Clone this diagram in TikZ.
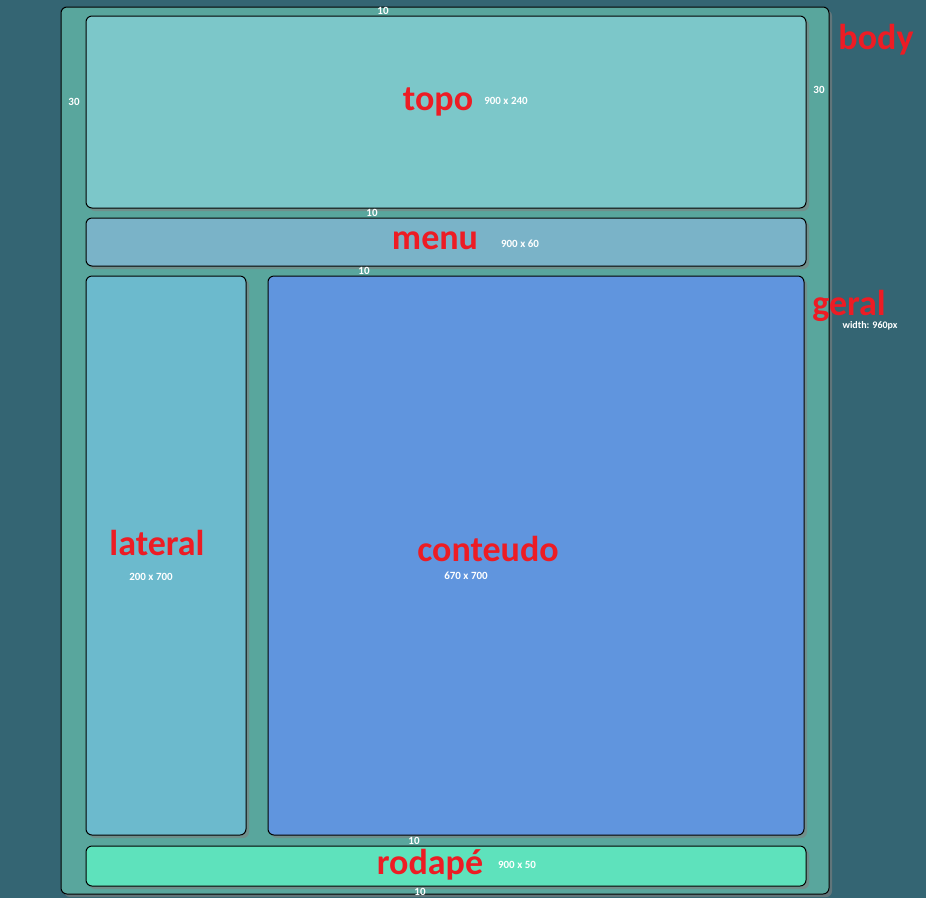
\documentclass[tikz,border=0pt]{standalone}
\usepackage{fontspec}
\setmainfont{Carlito}
\usetikzlibrary{shadows}

\definecolor{bodybg}{RGB}{52,101,115}
\definecolor{geralbg}{RGB}{89,166,157}
\definecolor{topobg}{RGB}{124,199,201}
\definecolor{menubg}{RGB}{122,179,200}
\definecolor{lateralbg}{RGB}{108,186,205}
\definecolor{conteudobg}{RGB}{96,149,222}
\definecolor{rodapebg}{RGB}{94,226,188}
\definecolor{labelred}{RGB}{237,28,36}

\begin{document}
\begin{tikzpicture}[x=1pt,y=-1pt]
        % Setup the style for the boxes and labels
        \tikzset{box style/.style={draw=black,
                                   line width=1pt,
                                   rounded corners=6pt,
                                   inner sep=0pt,
                                   drop shadow={shadow xshift=3pt,
                                                shadow yshift=-3pt,
                                                opacity=0.6}}}
        \tikzset{big label/.style={text=labelred,
                                   font=\fontsize{36}{40}\selectfont\bfseries,
                                   inner sep=0pt}}
        \tikzset{small label/.style={text=white,
                                     font=\fontsize{11}{12}\selectfont\bfseries,
                                     inner sep=0pt}}

        % Page
        \fill[bodybg] (0,0) rectangle (926,898);
        \useasboundingbox (0,0) rectangle (926,898);

        % Draw the boxes
        \node[box style, fill=geralbg, minimum width=768pt, minimum height=887pt] at (445,450.5) (geral) {};
        \node[box style, fill=topobg, minimum width=720pt, minimum height=192pt] at (446,112) (topo) {};
        \node[box style, fill=menubg, minimum width=720pt, minimum height=48pt] at (446,242) (menu) {};
        \node[box style, fill=lateralbg, minimum width=160pt, minimum height=559pt] at (166,555.5) (lateral) {};
        \node[box style, fill=conteudobg, minimum width=536pt, minimum height=559pt] at (536,555.5) (conteudo) {};
        \node[box style, fill=rodapebg, minimum width=720pt, minimum height=40pt] at (446,866) (rodape) {};

        % Names of the boxes
        \node[big label] at (876,40) (bodyname) {body};
        \node[big label] at (849,306) (geralname) {geral};
        \node[big label] at (438,102) (toponame) {topo};
        \node[big label] at (435,241) (menuname) {menu};
        \node[big label] at (157,543) (lateralname) {lateral};
        \node[big label] at (488,549) (conteudoname) {conteudo};
        \node[big label] at (430,865) (rodapename) {rodapé};

        % Sizes
        \node[small label] at (506,101) (toposize) {900 x 240};
        \node[small label] at (520,244) (menusize) {900 x 60};
        \node[small label] at (151,577) (lateralsize) {200 x 700};
        \node[small label] at (466,576) (conteudosize) {670 x 700};
        \node[small label] at (517,865) (rodapesize) {900 x 50};
        \node[small label, font=\fontsize{10}{12}\selectfont\bfseries] at (870,326) (geralsize) {width: 960px};

        % Margins
        \node[small label] at (383,11) (mtop) {10};
        \node[small label] at (74,102) (mleft) {30};
        \node[small label] at (819,90) (mright) {30};
        \node[small label] at (372,213) (mmenu) {10};
        \node[small label] at (364,271) (mmain) {10};
        \node[small label] at (414,841) (mfoot) {10};
        \node[small label] at (420,892) (mbottom) {10};
\end{tikzpicture}
\end{document}
